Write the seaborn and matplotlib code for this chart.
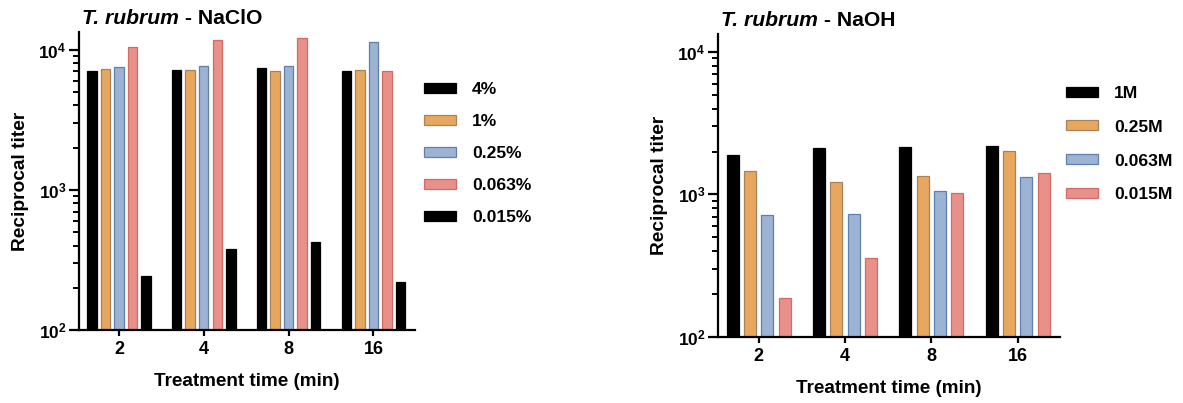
import math
import pandas as pd
import matplotlib
matplotlib.use("Agg")
import matplotlib.pyplot as plt
import matplotlib.ticker as mticker
import seaborn as sns

# ---- data ----
TIMES = ["2", "4", "8", "16"]

NACLO_LEVELS = ["4%", "1%", "0.25%", "0.063%", "0.015%"]
NACLO_4 = [7100, 7200, 7400, 7100]
NACLO_1 = [7300, 7200, 7000, 7200]
NACLO_025 = [7500, 7600, 7700, 11300]
NACLO_0063 = [10400, 11700, 12200, 7000]
NACLO_0015 = [244, 379, 423, 221]

NAOH_LEVELS = ["1M", "0.25M", "0.063M", "0.015M"]
NAOH_1 = [1880, 2120, 2140, 2180]
NAOH_025 = [1460, 1225, 1355, 2030]
NAOH_0063 = [714, 730, 1064, 1334]
NAOH_0015 = [188, 358, 1026, 1422]

BLACK = "#000000"
ORANGE = "#E8A75E"
BLUE = "#9DB3D4"
RED = "#E8908A"
EDGE = {BLACK: "#000000", ORANGE: "#A9825A", BLUE: "#5F7FAE", RED: "#D46A66"}


def long_frame(levels, series):
    rows = []
    for lvl, vals in zip(levels, series):
        for t, v in zip(TIMES, vals):
            rows.append({"time": t, "conc": lvl, "titer": v})
    return pd.DataFrame(rows)


def style():
    sns.set_style("ticks")
    plt.rcParams.update({
        "font.family": ["Liberation Sans", "DejaVu Sans"],
        "font.weight": "bold",
        "axes.labelweight": "bold",
        "text.color": "black",
        "axes.labelcolor": "black",
        "axes.edgecolor": "black",
        "xtick.color": "black",
        "ytick.color": "black",
        "mathtext.fontset": "custom",
        "mathtext.rm": "Liberation Sans:bold",
        "mathtext.bf": "Liberation Sans:bold",
        "mathtext.it": "Liberation Sans:bold:italic",
        "mathtext.default": "bf",
        "axes.linewidth": 1.6,
    })


def draw_panel(ax, df, levels, colors, title, ymax, legend_anchor, spacing, fig):
    sns.barplot(data=df, x="time", y="titer", hue="conc", order=TIMES,
                hue_order=levels, palette=colors, saturation=1, width=0.8, gap=0.3,
                linewidth=0.9, legend=False, ax=ax)
    for cont, c in zip(ax.containers, colors):
        for p in cont:
            p.set_edgecolor(EDGE[c])
    ax.set_yscale("log")
    ax.set_ylim(100, ymax)
    ax.set_xlim(-0.47, 3.49)
    ax.yaxis.set_major_locator(mticker.LogLocator(base=10, numticks=5))
    ax.yaxis.set_minor_locator(mticker.LogLocator(base=10, subs=range(2, 10), numticks=20))
    ax.yaxis.set_minor_formatter(mticker.NullFormatter())
    ax.yaxis.set_major_formatter(mticker.FuncFormatter(
        lambda v, pos: r"$10^{%d}$" % round(math.log10(v))))
    ax.tick_params(axis="y", which="major", length=7, width=1.6, labelsize=12.5, pad=2)
    ax.tick_params(axis="y", which="minor", length=4, width=1.4)
    ax.tick_params(axis="x", which="major", length=4, width=1.6, labelsize=13, pad=4)
    for lab in ax.get_xticklabels():
        lab.set_fontweight("bold")
    ax.set_xlabel("Treatment time (min)", fontsize=13.6, fontweight="bold", labelpad=11)
    ax.set_ylabel("Reciprocal titer", fontsize=13.8, fontweight="bold", labelpad=7)
    sns.despine(ax=ax)

    t1 = ax.text(0.01, 1.012, "T. rubrum", transform=ax.transAxes, fontsize=15.2,
                 fontweight="bold", fontstyle="italic", ha="left", va="bottom")
    ax.annotate(" - " + title, xy=(1, 0), xycoords=t1, fontsize=15.2,
                fontweight="bold", ha="left", va="bottom")

    fig.legend(ax.containers, levels, loc="upper left", bbox_to_anchor=legend_anchor,
               frameon=False, handlelength=1.85, handleheight=0.5,
               handletextpad=0.9, labelspacing=spacing, borderpad=0,
               prop={"weight": "bold", "size": 12.6})


style()
fig = plt.figure(figsize=(11.83, 4.03), dpi=100)
ax1 = fig.add_axes([0.0668, 0.181, 0.284, 0.740])
ax2 = fig.add_axes([0.607, 0.164, 0.289, 0.752])

df1 = long_frame(NACLO_LEVELS, [NACLO_4, NACLO_1, NACLO_025, NACLO_0063, NACLO_0015])
df2 = long_frame(NAOH_LEVELS, [NAOH_1, NAOH_025, NAOH_0063, NAOH_0015])

draw_panel(ax1, df1, NACLO_LEVELS, [BLACK, ORANGE, BLUE, RED, BLACK], "NaClO",
           13400, (415 / 1183, 1 - 73 / 403), 0.98, fig)
draw_panel(ax2, df2, NAOH_LEVELS, [BLACK, ORANGE, BLUE, RED], "NaOH",
           13400, (1057 / 1183, 1 - 77 / 403), 1.08, fig)

fig.savefig("out.png", dpi=100)
